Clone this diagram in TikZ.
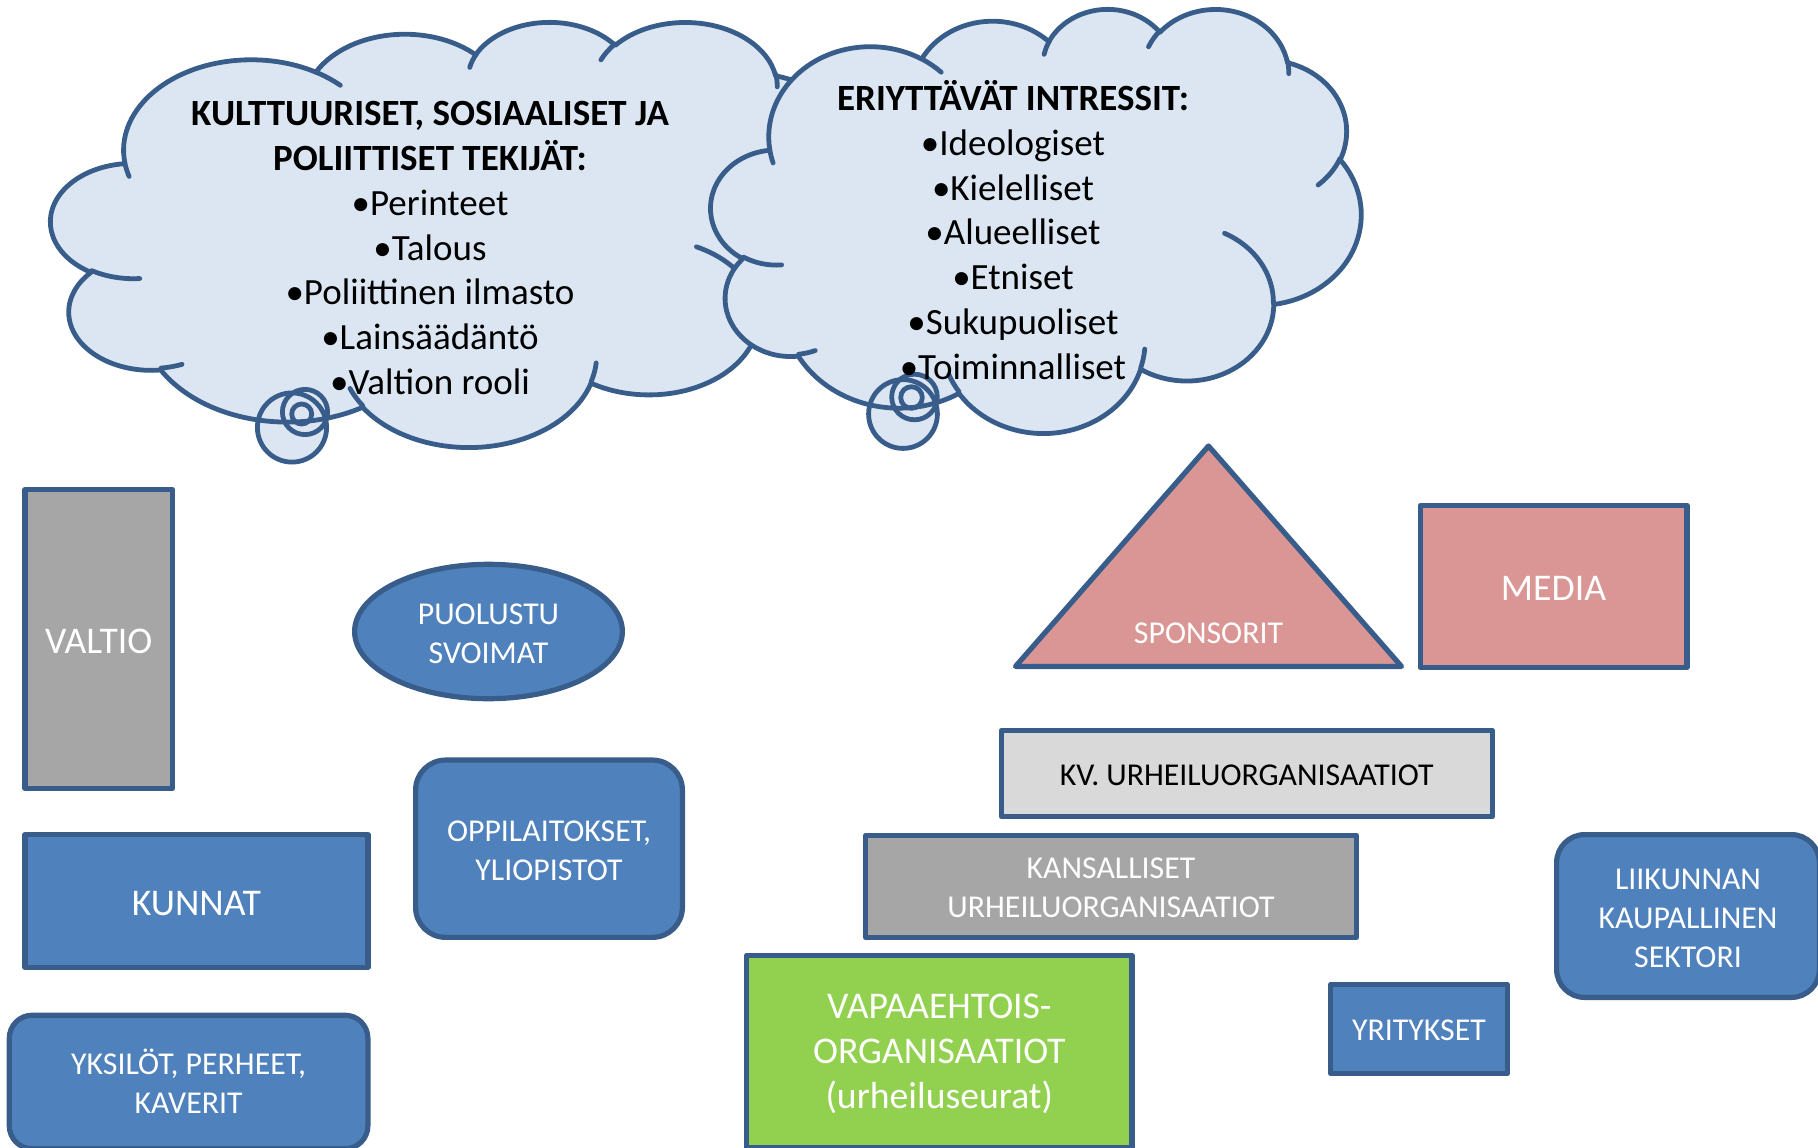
\documentclass[tikz,border=0pt]{standalone}
\usepackage{fontspec}
\setmainfont{Carlito}
\usetikzlibrary{shapes.geometric}
\definecolor{cloudfill}{HTML}{DCE6F2}
\definecolor{edge}{HTML}{385D8A}
\definecolor{bluefill}{HTML}{4F81BD}
\definecolor{greyfill}{HTML}{A6A6A6}
\definecolor{lightgrey}{HTML}{D9D9D9}
\definecolor{pinkfill}{HTML}{D99694}
\definecolor{greenfill}{HTML}{92D050}
\tikzset{
  oo/.style n args={4}{x radius=#1, y radius=#2,
    start angle={atan2((#1)*sin(#3),(#2)*cos(#3))},
    delta angle={mod(atan2((#1)*sin((#3)+(#4)),(#2)*cos((#3)+(#4)))-atan2((#1)*sin(#3),(#2)*cos(#3))+720,360)}},
  box/.style={draw=edge, line width=5.2pt, line join=round, inner sep=0pt},
  lab/.style={text=white, align=center, inner sep=0pt, yshift=-2.3pt},
  smalltext/.style={font=\fontsize{31.8}{39.4}\selectfont},
  bigtext/.style={font=\fontsize{37.7}{45.2}\selectfont},
  cloudline/.style={draw=edge, line width=4.8pt, line join=round, line cap=round},
  cloudtext/.style={align=center, text=black, inner sep=0pt, font=\fontsize{37}{44.8}\selectfont},
}
\newcommand\cloudoutline[1]{%
 \path[#1] (3.9,14.37)
  arc[oo={6.753}{9.19}{-190.48748}{123.78053}]
  arc[oo={5.333}{7.267}{-144.10238}{89.94523}]
  arc[oo={4.365}{5.945}{-145.80792}{99.72302}]
  arc[oo={4.857}{6.595}{-130.98607}{117.24173}]
  arc[oo={5.333}{7.273}{-78.70888}{109.02692}]
  arc[oo={6.775}{9.22}{-46.26725}{130.269}]
  arc[oo={5.785}{7.867}{0.62502}{114.03333}]
  arc[oo={6.752}{9.215}{22.4516}{115.17255}]
  arc[oo={7.72}{10.543}{66.24263}{75.71102}]
  arc[oo={4.36}{5.918}{-274.94208}{146.73557}]
  arc[oo={4.345}{5.945}{-246.8285}{152.51885}]
  -- cycle;}
\newcommand\cloudstubs[1]{%
 \path[#1]
  (4.693,26.177) arc[oo={4.345}{5.945}{86.742}{26.4295}]
  (6.928,34.899) arc[oo={4.36}{5.918}{73.61047}{11.44747}]
  (16.478,39.09) arc[oo={6.752}{9.215}{137.62415}{14.0811}]
  (28.827,34.751) arc[oo={6.752}{9.215}{6.45327}{15.99835}]
  (34.129,22.954) arc[oo={5.785}{7.867}{-70.29235}{70.91737}]
  (41.798,15.354) arc[oo={5.333}{7.273}{30.31803}{27.7515}]
  (38.324,5.426) arc[oo={4.857}{6.595}{-13.74433}{14.8589}]
  (29.078,3.952) arc[oo={4.857}{6.595}{-149.18145}{18.19537}]
  (22.141,4.72) arc[oo={4.365}{5.945}{-163.49427}{17.68635}]
  (14.0,5.192) arc[oo={6.753}{9.19}{-66.70695}{12.31935}]
  (4.127,15.789) arc[oo={6.753}{9.19}{157.65435}{11.85817}];}
\begin{document}
\begin{tikzpicture}[x=1pt, y=-1pt]
\useasboundingbox (0,0) rectangle (1818,1148);
\clip (0,0) rectangle (1818,1148);

% ---------- cloud 1 ----------
\begin{scope}[shift={(51,21)}, x=18.912pt, y=-9.838pt]
  \cloudoutline{fill=cloudfill}
\end{scope}
\fill[cloudfill] (292,427.5) circle[radius=34.6];
\fill[cloudfill] (305,412) circle[radius=22.6];
\begin{scope}[shift={(51,21)}, x=18.912pt, y=-9.838pt]
  \cloudoutline{cloudline}
  \cloudstubs{cloudline}
\end{scope}
\draw[cloudline] (292,427.5) circle[radius=34.6];
\draw[cloudline] (305,412) circle[radius=22.6];
\draw[cloudline] (301.7,414) circle[radius=10];
\node[cloudtext] (c1text) at (430,248) {\textbf{KULTTUURISET, SOSIAALISET JA}\\\textbf{POLIITTISET TEKIJÄT:}\\•Perinteet\\•Talous\\•Poliittinen ilmasto\\•Lainsäädäntö\\•Valtion rooli};

% ---------- cloud 2 ----------
\begin{scope}[shift={(711,8)}, x=15.046pt, y=-9.815pt]
  \cloudoutline{fill=cloudfill}
\end{scope}
\fill[cloudfill] (903,414) circle[radius=34.4];
\fill[cloudfill] (914.5,397) circle[radius=22.8];
\begin{scope}[shift={(711,8)}, x=15.046pt, y=-9.815pt]
  \cloudoutline{cloudline}
  \cloudstubs{cloudline}
\end{scope}
\draw[cloudline] (903,414) circle[radius=34.4];
\draw[cloudline] (914.5,397) circle[radius=22.8];
\draw[cloudline] (911.5,397.5) circle[radius=10.8];
\node[cloudtext] (c2text) at (1013,230) {\textbf{ERIYTTÄVÄT INTRESSIT:}\\•Ideologiset\\•Kielelliset\\•Alueelliset\\•Etniset\\•Sukupuoliset\\•Toiminnalliset};

% ---------- left column ----------
\node[box, fill=greyfill, minimum width=147.5pt, minimum height=298.8pt,
  label={[lab, bigtext, name=valtio-t]center:{VALTIO}}] (valtio) at (98.7,639) {};
\node[box, ellipse, fill=bluefill, minimum width=267.8pt, minimum height=134.4pt,
  label={[lab, smalltext, name=puol-t]center:{PUOLUSTU\\SVOIMAT}}] (puol) at (488.5,631.5) {};
\node[box, fill=bluefill, rounded corners=30pt, minimum width=266.8pt, minimum height=177.3pt,
  label={[lab, smalltext, name=oppi-t]center:{OPPILAITOKSET,\\YLIOPISTOT}}] (oppi) at (549,848.7) {};
\node[box, fill=bluefill, minimum width=343pt, minimum height=132.8pt,
  label={[lab, bigtext, name=kunnat-t]center:{KUNNAT}}] (kunnat) at (196.4,901) {};
\node[box, fill=bluefill, rounded corners=23pt, minimum width=358.6pt, minimum height=133.6pt,
  label={[lab, smalltext, yshift=2.8pt, name=yksi-t]center:{YKSILÖT, PERHEET,\\KAVERIT}}] (yksi) at (188.6,1082) {};

% ---------- right part ----------
\draw[box, fill=pinkfill] (1208.5,446) -- (1401.5,666.4) -- (1015.5,666.4) -- cycle;
\node[lab, smalltext] (spons) at (1208.5,631) {SPONSORIT};
\node[box, fill=pinkfill, minimum width=266.8pt, minimum height=162.1pt,
  label={[lab, bigtext, name=media-t]center:{MEDIA}}] (media) at (1553.5,586.4) {};
\node[box, fill=lightgrey, minimum width=490.8pt, minimum height=86.4pt,
  label={[lab, smalltext, text=black, yshift=1pt, name=kv-t]center:{KV. URHEILUORGANISAATIOT}}] (kv) at (1246.7,773.5) {};
\node[box, fill=greyfill, minimum width=490.8pt, minimum height=102.1pt,
  label={[lab, smalltext, yshift=1pt, name=kans-t]center:{KANSALLISET\\URHEILUORGANISAATIOT}}] (kans) at (1111,886.4) {};
\node[box, fill=greenfill, minimum width=385.4pt, minimum height=192.6pt,
  label={[lab, bigtext, name=vapaa-t]center:{VAPAAEHTOIS-\\ORGANISAATIOT\\(urheiluseurat)}}] (vapaa) at (939.3,1051.6) {};
\node[box, fill=bluefill, minimum width=176.8pt, minimum height=88.8pt,
  label={[lab, smalltext, yshift=1pt, name=yrit-t]center:{YRITYKSET}}] (yrit) at (1419,1029) {};
\node[box, fill=bluefill, rounded corners=28pt, minimum width=262.8pt, minimum height=162.8pt,
  label={[lab, smalltext, name=liik-t]center:{LIIKUNNAN\\KAUPALLINEN\\SEKTORI}}] (liik) at (1688,916) {};
\end{tikzpicture}
\end{document}
